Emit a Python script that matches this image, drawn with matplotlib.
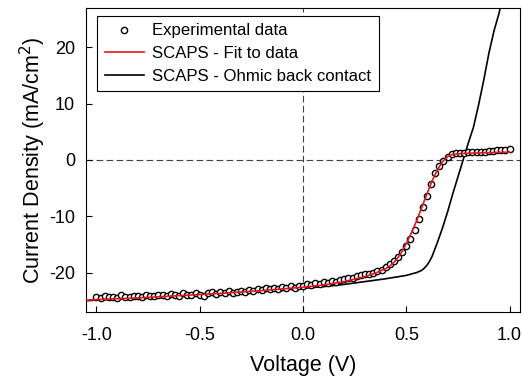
import numpy as np
import matplotlib
matplotlib.use("Agg")
import matplotlib.pyplot as plt

plt.rcParams['font.family'] = ['Liberation Sans', 'DejaVu Sans']
plt.rcParams['axes.unicode_minus'] = False

# Experimental J-V data (V in volts, J in mA/cm2)
v_exp = np.round(np.arange(-1.0, 1.0001, 0.02), 2)
j_exp = [-24.3, -24.5, -24.2, -24.4, -24.3, -24.5, -24.0, -24.3, -24.4, -24.1,
         -24.2, -24.4, -23.9, -24.1, -24.2, -23.9, -24.0, -24.2, -23.8, -24.0,
         -24.1, -23.7, -24.0, -23.9, -23.6, -24.0, -24.1, -23.7, -23.5, -23.8,
         -23.4, -23.6, -23.3, -23.7, -23.4, -23.2, -23.5, -23.1, -23.3, -22.9,
         -23.1, -22.8, -23.0, -22.7, -22.9, -22.6, -22.8, -22.4, -22.7, -22.3,
         -22.4, -22.1, -22.2, -21.9, -22.0, -21.7, -21.8, -21.5, -21.6, -21.3,
         -21.2, -21.0, -20.9, -20.6, -20.5, -20.3, -20.2, -20.0, -19.8, -19.5,
         -19.0, -18.5, -17.9, -17.2, -16.4, -15.3, -14.0, -12.4, -10.5, -8.4,
         -6.4, -4.3, -2.4, -1.1, -0.2, 0.6, 1.0, 1.2, 1.3, 1.3,
         1.4, 1.4, 1.4, 1.5, 1.5, 1.6, 1.6, 1.7, 1.7, 1.8,
         1.9]

# SCAPS fit to data
v_fit = [-1.05, -1.0, -0.8, -0.6, -0.4, -0.2, 0.0, 0.1, 0.2, 0.3, 0.35, 0.4,
         0.425, 0.45, 0.475, 0.5, 0.525, 0.55, 0.575, 0.6, 0.625, 0.65, 0.675,
         0.7, 0.725, 0.75, 0.8, 0.9, 1.0]
j_fit = [-24.9, -24.8, -24.5, -24.1, -23.7, -23.2, -22.6, -22.2, -21.6, -20.7,
         -20.1, -19.3, -18.7, -17.8, -16.5, -14.8, -12.9, -10.8, -8.4, -6.0,
         -3.7, -1.8, -0.3, 0.6, 1.0, 1.1, 1.2, 1.3, 1.4]

# SCAPS with ohmic back contact
v_ohm = [-1.05, -1.0, -0.8, -0.6, -0.4, -0.2, 0.0, 0.1, 0.2, 0.3, 0.4, 0.45,
         0.5, 0.55, 0.575, 0.5875, 0.6, 0.6125, 0.625, 0.65, 0.675, 0.7, 0.725,
         0.75, 0.775, 0.8, 0.825, 0.85, 0.875, 0.9, 0.925, 0.95, 0.96]
j_ohm = [-25.0, -24.9, -24.6, -24.2, -23.8, -23.3, -22.8, -22.5, -22.1, -21.6,
         -21.1, -20.8, -20.5, -20.0, -19.6, -19.2, -18.7, -18.0, -17.1, -14.7,
         -12.1, -9.2, -6.0, -3.0, 0.0, 3.0, 5.8, 9.8, 14.2, 19.0, 23.0, 26.2,
         28.0]

fig = plt.figure(figsize=(5.22, 3.8), dpi=100)
ax = fig.add_axes([0.165, 0.179, 0.831, 0.8])

ax.axhline(0, color="#444444", lw=0.8, dashes=(6, 3), zorder=1)
ax.axvline(0, color="#444444", lw=0.8, dashes=(6, 3), zorder=1)

ax.plot(v_exp, j_exp, "o", ms=4.5, mfc="white", mec="black", mew=1.0,
        label="Experimental data", zorder=3)
ax.plot(v_fit, j_fit, color="#e8141e", lw=1.2, label="SCAPS - Fit to data", zorder=4)
ax.plot(v_ohm, j_ohm, color="black", lw=1.2, label="SCAPS - Ohmic back contact", zorder=2)

ax.set_xlim(-1.05, 1.05)
ax.set_ylim(-27, 27)
ax.set_xticks([-1.0, -0.5, 0.0, 0.5, 1.0])
ax.set_yticks([-20, -10, 0, 10, 20])
ax.tick_params(axis="x", direction="in", length=4, labelsize=13, pad=11)
ax.tick_params(axis="y", direction="in", length=4, labelsize=13, pad=8)
ax.set_xlabel("Voltage (V)", fontsize=15.5, labelpad=8)
ax.set_ylabel("Current Density (mA/cm$^2$)", fontsize=15.5, labelpad=1)

leg = ax.legend(loc="upper left", bbox_to_anchor=(0.025, 0.974), borderaxespad=0,
                fontsize=12.1, fancybox=False, edgecolor="black", framealpha=1,
                handlelength=2.35, handletextpad=0.5, labelspacing=0.45,
                borderpad=0.45)
leg.get_frame().set_linewidth(0.8)

fig.savefig("out.png", dpi=100)
